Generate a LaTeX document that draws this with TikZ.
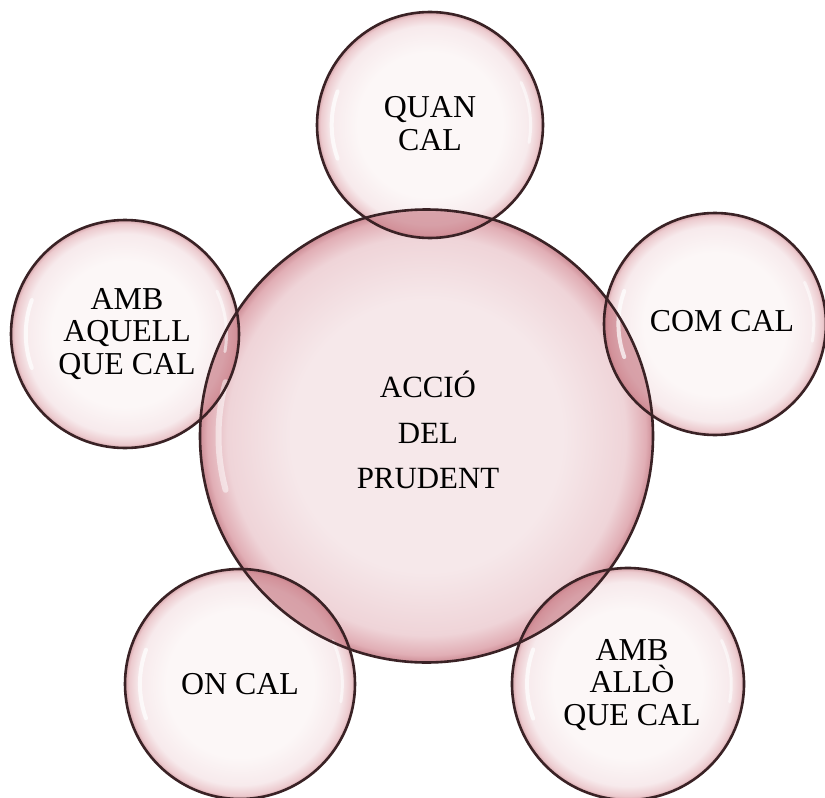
\documentclass[tikz,border=0pt]{standalone}
\usepackage{fontspec}
\setmainfont{Liberation Serif}
\usetikzlibrary{calc}

% bubble colours
\definecolor{midA}{RGB}{246,232,234}
\definecolor{midB}{RGB}{239,212,216}
\definecolor{midC}{RGB}{225,174,181}
\definecolor{midD}{RGB}{204,140,149}
\definecolor{smA}{RGB}{252,247,247}
\definecolor{smB}{RGB}{247,234,236}
\definecolor{smC}{RGB}{236,202,206}
\definecolor{smD}{RGB}{214,164,170}
\definecolor{lenscol}{RGB}{190,100,112}
\definecolor{rimcol}{RGB}{58,34,37}

% the middle 50bp x 50bp of a shading is fitted to the path, so the rim sits at 25bp
\pgfdeclareradialshading{bigbubble}{\pgfpoint{0bp}{0bp}}{%
  color(0bp)=(midA); color(15bp)=(midA); color(22bp)=(midB);
  color(24.2bp)=(midC); color(25bp)=(midD); color(50bp)=(midD)}
\pgfdeclareradialshading{smallbubble}{\pgfpoint{0bp}{0bp}}{%
  color(0bp)=(smA); color(16bp)=(smA); color(22bp)=(smB);
  color(24.2bp)=(smC); color(25bp)=(smD); color(50bp)=(smD)}

\tikzset{
  bubblebig/.style={circle, inner sep=0pt, outer sep=0pt, shading=bigbubble},
  bubblesmall/.style={circle, inner sep=0pt, outer sep=0pt, shading=smallbubble},
  rim/.style={draw=rimcol, line width=2.6bp},
  lens/.style={fill=lenscol, fill opacity=0.55},
  glare/.style={draw=white, opacity=0.7, line cap=round},
  smalltext/.style={align=center, font=\fontsize{32}{33}\selectfont, inner sep=0pt},
  bigtext/.style={align=center, font=\fontsize{31}{46}\selectfont, inner sep=0pt},
}

\begin{document}
\begin{tikzpicture}[x=1bp, y=-1bp]
  \fill[white] (0,0) rectangle (825,798);
  \useasboundingbox (0,0) rectangle (825,798);

  % central bubble
  \node[bubblebig, minimum size=453bp] (mid) at (426.5,436) {};

  % surrounding bubbles
  \node[bubblesmall, minimum size=226bp] (top)   at (430,125) {};
  \node[bubblesmall, minimum size=228bp] (left)  at (125,334) {};
  \node[bubblesmall, minimum size=222bp] (right) at (715,324) {};
  \node[bubblesmall, minimum size=230bp] (bl)    at (240,684) {};
  \node[bubblesmall, minimum size=232bp] (br)    at (628,684) {};

  % darker lenses where a small bubble covers the central one
  \foreach \b/\r in {top/113, left/114, right/111, bl/115, br/116}{
    \begin{scope}
      \clip (\b.center) circle (\r);
      \fill[lens] (mid.center) circle (226.5);
    \end{scope}
  }

  % glare streaks
  \draw[glare, line width=6bp, opacity=0.5] ([shift={(165:208)}]mid.center) arc (165:195:208);
  \foreach \b/\r in {top/113, left/114, right/111, bl/115, br/116}{
    \draw[glare, line width=4bp] ([shift={(160:0.87*\r)}]\b.center) arc (160:200:0.87*\r);
    \draw[glare, line width=3bp, opacity=0.55] ([shift={(-25:0.89*\r)}]\b.center) arc (-25:10:0.89*\r);
  }

  % outlines
  \draw[rim] (mid.center) circle (226.5);
  \draw[rim] (top.center) circle (113);
  \draw[rim] (left.center) circle (114);
  \draw[rim] (right.center) circle (111);
  \draw[rim] (bl.center) circle (115);
  \draw[rim] (br.center) circle (116);

  % labels
  \node[bigtext]   (tmid)   at (428,430) {ACCIÓ\\DEL\\PRUDENT};
  \node[smalltext] (ttop)   at (430,124) {QUAN\\CAL};
  \node[smalltext] (tleft)  at (127,334) {AMB\\AQUELL\\QUE CAL};
  \node[smalltext] (tright) at (722,321) {COM CAL};
  \node[smalltext] (tbl)    at (240,684) {ON CAL};
  \node[smalltext] (tbr)    at (632,685) {AMB\\ALLÒ\\QUE CAL};
\end{tikzpicture}
\end{document}
